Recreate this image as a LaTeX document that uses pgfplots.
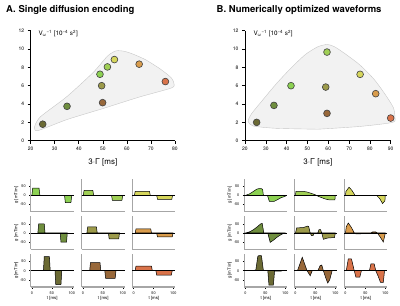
\documentclass[border=0pt]{standalone}
\usepackage{fontspec}
\setmainfont{TeX Gyre Heros}
\usepackage{pgfplots}
\pgfplotsset{compat=1.18}
\definecolor{c1}{HTML}{8CD152}
\definecolor{c2}{HTML}{A0CF55}
\definecolor{c3}{HTML}{D6D65C}
\definecolor{c4}{HTML}{6F8E3E}
\definecolor{c5}{HTML}{9C9A4A}
\definecolor{c6}{HTML}{D99C4C}
\definecolor{c7}{HTML}{6B6A34}
\definecolor{c8}{HTML}{98683A}
\definecolor{c9}{HTML}{D9734A}
\newcommand{\pnt}[3]{\addplot[only marks, mark=*, mark size=3.4pt, mark options={fill=#1, draw=black!75, line width=0.6pt}] coordinates {(#2,#3)};}
\pgfplotsset{
  main/.style={scale only axis, height=110pt, ymin=0, ymax=12, ytick={0,2,...,12},
    axis x line=bottom, axis y line=left, axis line style={-, black, line width=0.8pt},
    tick align=outside, major tick length=3pt, tick style={black, line width=0.6pt},
    ticklabel style={font=\fontsize{5}{6}\selectfont},
    /pgf/number format/assume math mode=true, clip=false},
  wf/.style={scale only axis, width=43pt, height=33pt, xmin=-3, xmax=105, ymin=-90, ymax=92,
    axis x line=bottom, axis y line=left, axis line style={-, black!35, line width=1.1pt},
    xtick=\empty, ytick=\empty, tick align=outside, major tick length=1.5pt,
    tick style={black, line width=0.4pt},
    ticklabel style={font=\fontsize{3.8}{4}\selectfont},
    label style={font=\fontsize{4.3}{5}\selectfont},
    /pgf/number format/assume math mode=true, clip=false},
  wfl/.style={ytick={-50,0,50}, ylabel={g [mT/m]}, ylabel style={yshift=-5pt}},
  wfb/.style={xtick={0,50,100}, xlabel={t [ms]}, xlabel style={yshift=5pt}},
  wave/.style={draw=black, line width=0.5pt, fill=#1},
  zl/.style={black, line width=0.6pt},
}
\begin{document}
\begin{tikzpicture}
\path[use as bounding box] (0,0) rectangle (400pt,306pt);
\node[anchor=base west, font=\bfseries\fontsize{9.5}{11}\selectfont, inner sep=0pt] at (6pt,293pt) {A. Single diffusion encoding};
\node[anchor=base west, font=\bfseries\fontsize{9.5}{11}\selectfont, inner sep=0pt] at (216.5pt,293pt) {B. Numerically optimized waveforms};

% ---------- Panel A scatter
\begin{axis}[main, at={(30.7pt,165.3pt)}, anchor=south west, width=144.3pt, xmin=20, xmax=80, xtick={20,30,...,80}]
\addplot[fill=black!5, draw=black!22, line width=0.4pt, smooth, tension=0.4] coordinates {
(50,3.5) (35,2.3) (23,1.1) (21.6,1.5) (24,2.6) (35,4.8) (46,7.45) (52,9.25) (55.5,9.8) (59,9.75) (63,9.4) (68,8.8) (74,7.8) (78.5,6.85) (79.6,6.2) (78.5,5.75) (65,4.75) (50,3.5)};
\pnt{c7}{25}{1.8}
\pnt{c4}{35.1}{3.75}
\pnt{c1}{48.8}{7.25}
\pnt{c2}{51.9}{8.05}
\pnt{c3}{54.8}{8.85}
\pnt{c5}{49.5}{6.0}
\pnt{c8}{49.9}{4.15}
\pnt{c6}{65.1}{8.35}
\pnt{c9}{76}{6.45}
\node[anchor=west, font=\fontsize{6.3}{7}\selectfont, inner sep=0pt] at (rel axis cs:0.053,0.975) {V\textsubscript{ω}\textsuperscript{−1} [10\textsuperscript{−4} s\textsuperscript{2}]};
\node[font=\fontsize{8}{9}\selectfont, yshift=-22pt] at (rel axis cs:0.5,0) {3$\cdot$Γ [ms]};
\end{axis}

% ---------- Panel B scatter
\begin{axis}[main, at={(245pt,165.3pt)}, anchor=south west, width=145.7pt, xmin=20, xmax=90, xtick={20,30,...,90}]
\addplot[fill=black!5, draw=black!22, line width=0.4pt, smooth, tension=0.4] coordinates {
(55,1.25) (35,1.35) (24,1.6) (21.5,2.1) (23,2.9) (28,4.3) (35,6.2) (42,7.9) (49,9.4) (55,10.25) (59.5,10.5) (63,10.25) (68,9.5) (75,8.3) (82,6.7) (87.5,5.0) (91.3,3.6) (92,2.6) (91,2.0) (75,1.55) (55,1.25)};
\pnt{c7}{25.6}{2.0}
\pnt{c4}{33.9}{3.85}
\pnt{c1}{42.1}{6.0}
\pnt{c2}{59.4}{9.67}
\pnt{c5}{58.8}{5.85}
\pnt{c8}{59.4}{2.98}
\pnt{c3}{75.3}{7.24}
\pnt{c6}{82.8}{5.13}
\pnt{c9}{90}{2.47}
\node[anchor=west, font=\fontsize{6.3}{7}\selectfont, inner sep=0pt] at (rel axis cs:0.057,0.975) {V\textsubscript{ω}\textsuperscript{−1} [10\textsuperscript{−4} s\textsuperscript{2}]};
\node[font=\fontsize{8}{9}\selectfont, yshift=-22pt] at (rel axis cs:0.5,0) {3$\cdot$Γ [ms]};
\end{axis}

% ---------- Panel A waveforms
\begin{axis}[wf, wfl, at={(30.7pt,94.3pt)}, anchor=south west]
\addplot[wave=c1] coordinates {(0,0)(2,40)(18,40)(20,0)(82,0)(84,-40)(98,-40)(100,0)} -- cycle;
\addplot[zl] coordinates {(-3,0)(105,0)};
\end{axis}
\begin{axis}[wf, at={(81.7pt,94.3pt)}, anchor=south west]
\addplot[wave=c2] coordinates {(1,0)(3,28)(25,28)(27,0)(72,0)(74,-28)(98,-28)(100,0)} -- cycle;
\addplot[zl] coordinates {(-3,0)(105,0)};
\end{axis}
\begin{axis}[wf, at={(132.4pt,94.3pt)}, anchor=south west]
\addplot[wave=c3] coordinates {(2,0)(4,22)(40,22)(42,0)(58,0)(60,-22)(96,-22)(98,0)} -- cycle;
\addplot[zl] coordinates {(-3,0)(105,0)};
\end{axis}
\begin{axis}[wf, wfl, at={(30.7pt,56.7pt)}, anchor=south west]
\addplot[wave=c4] coordinates {(15,0)(17,50)(31,50)(33,0)(71,0)(73,-50)(87,-50)(89,0)} -- cycle;
\addplot[zl] coordinates {(-3,0)(105,0)};
\end{axis}
\begin{axis}[wf, at={(81.7pt,56.7pt)}, anchor=south west]
\addplot[wave=c5] coordinates {(10,0)(12,33)(34,33)(36,0)(64,0)(66,-32)(90,-32)(92,0)} -- cycle;
\addplot[zl] coordinates {(-3,0)(105,0)};
\end{axis}
\begin{axis}[wf, at={(132.4pt,56.7pt)}, anchor=south west]
\addplot[wave=c6] coordinates {(4,0)(6,22)(43,22)(45,0)(58,0)(60,-22)(97,-22)(99,0)} -- cycle;
\addplot[zl] coordinates {(-3,0)(105,0)};
\end{axis}
\begin{axis}[wf, wfl, wfb, at={(30.7pt,19pt)}, anchor=south west]
\addplot[wave=c7] coordinates {(29,0)(31,77)(44,77)(46,0)(58,0)(60,-77)(73,-77)(75,0)} -- cycle;
\addplot[zl] coordinates {(-3,0)(105,0)};
\end{axis}
\begin{axis}[wf, wfb, at={(81.7pt,19pt)}, anchor=south west]
\addplot[wave=c8] coordinates {(17,0)(19,44)(43,44)(45,0)(55,0)(57,-43)(81,-43)(83,0)} -- cycle;
\addplot[zl] coordinates {(-3,0)(105,0)};
\end{axis}
\begin{axis}[wf, wfb, at={(132.4pt,19pt)}, anchor=south west]
\addplot[wave=c9] coordinates {(4,0)(6,25)(45,25)(47,0)(56,0)(58,-24)(95,-24)(97,0)} -- cycle;
\addplot[zl] coordinates {(-3,0)(105,0)};
\end{axis}

% ---------- Panel B waveforms
\begin{axis}[wf, wfl, at={(244.3pt,94.3pt)}, anchor=south west]
\addplot[wave=c1] coordinates {(0,0)(10,8)(20,22)(28,34)(33,37)(40,37)(43,33)(45,0)(55,0)(60,-33)(72,-33)(80,-24)(90,-12)(100,-5)(100,0)} -- cycle;
\addplot[zl] coordinates {(-3,0)(105,0)};
\end{axis}
\begin{axis}[wf, at={(294.3pt,94.3pt)}, anchor=south west]
\addplot[wave=c2] coordinates {(0,0)(1,22)(20,22)(30,18)(40,11)(50,3)(55,-3)(65,-12)(75,-20)(85,-25)(99,-25)(100,0)} -- cycle;
\addplot[zl] coordinates {(-3,0)(105,0)};
\end{axis}
\begin{axis}[wf, at={(344.3pt,94.3pt)}, anchor=south west]
\addplot[wave=c3] coordinates {(0,0)(1,22)(9,45)(16,28)(24,0)(78,0)(86,-18)(93,-45)(99,-30)(100,0)} -- cycle;
\addplot[zl] coordinates {(-3,0)(105,0)};
\end{axis}
\begin{axis}[wf, wfl, at={(244.3pt,56.7pt)}, anchor=south west]
\addplot[wave=c4] coordinates {(0,0)(10,6)(20,18)(30,35)(38,50)(42,53)(46,0)(56,0)(62,-52)(70,-40)(80,-22)(90,-8)(98,0)} -- cycle;
\addplot[zl] coordinates {(-3,0)(105,0)};
\end{axis}
\begin{axis}[wf, at={(294.3pt,56.7pt)}, anchor=south west]
\addplot[wave=c5] coordinates {(0,0)(3,28)(20,30)(30,38)(33,36)(37,0)(40,-15)(44,-15)(47,0)(56,0)(59,18)(63,18)(66,0)(70,-35)(80,-28)(98,-25)(100,0)} -- cycle;
\addplot[zl] coordinates {(-3,0)(105,0)};
\end{axis}
\begin{axis}[wf, at={(344.3pt,56.7pt)}, anchor=south west]
\addplot[wave=c6] coordinates {(0,0)(2,35)(7,55)(15,30)(22,0)(26,-5)(38,-5)(40,0)(64,0)(68,6)(76,6)(80,0)(88,-25)(95,-50)(100,0)} -- cycle;
\addplot[zl] coordinates {(-3,0)(105,0)};
\end{axis}
\begin{axis}[wf, wfl, wfb, at={(244.3pt,19pt)}, anchor=south west]
\addplot[wave=c7] coordinates {(0,0)(20,1)(26,4)(31,80)(34,83)(40,83)(45,0)(56,0)(59,-80)(70,-80)(73,-3)(90,-2)(92,0)} -- cycle;
\addplot[zl] coordinates {(-3,0)(105,0)};
\end{axis}
\begin{axis}[wf, wfb, at={(294.3pt,19pt)}, anchor=south west]
\addplot[wave=c8] coordinates {(5,0)(17,74)(29,0)(37,-28)(42,0)(56,0)(62,28)(66,31)(70,0)(76,-40)(81,-68)(86,-50)(92,0)} -- cycle;
\addplot[zl] coordinates {(-3,0)(105,0)};
\end{axis}
\begin{axis}[wf, wfb, at={(344.3pt,19pt)}, anchor=south west]
\addplot[wave=c9] coordinates {(2,0)(7,65)(15,65)(22,0)(26,-35)(36,-35)(40,0)(60,0)(64,38)(72,38)(76,0)(82,-30)(88,-65)(95,-65)(98,0)} -- cycle;
\addplot[zl] coordinates {(-3,0)(105,0)};
\end{axis}
\end{tikzpicture}
\end{document}
